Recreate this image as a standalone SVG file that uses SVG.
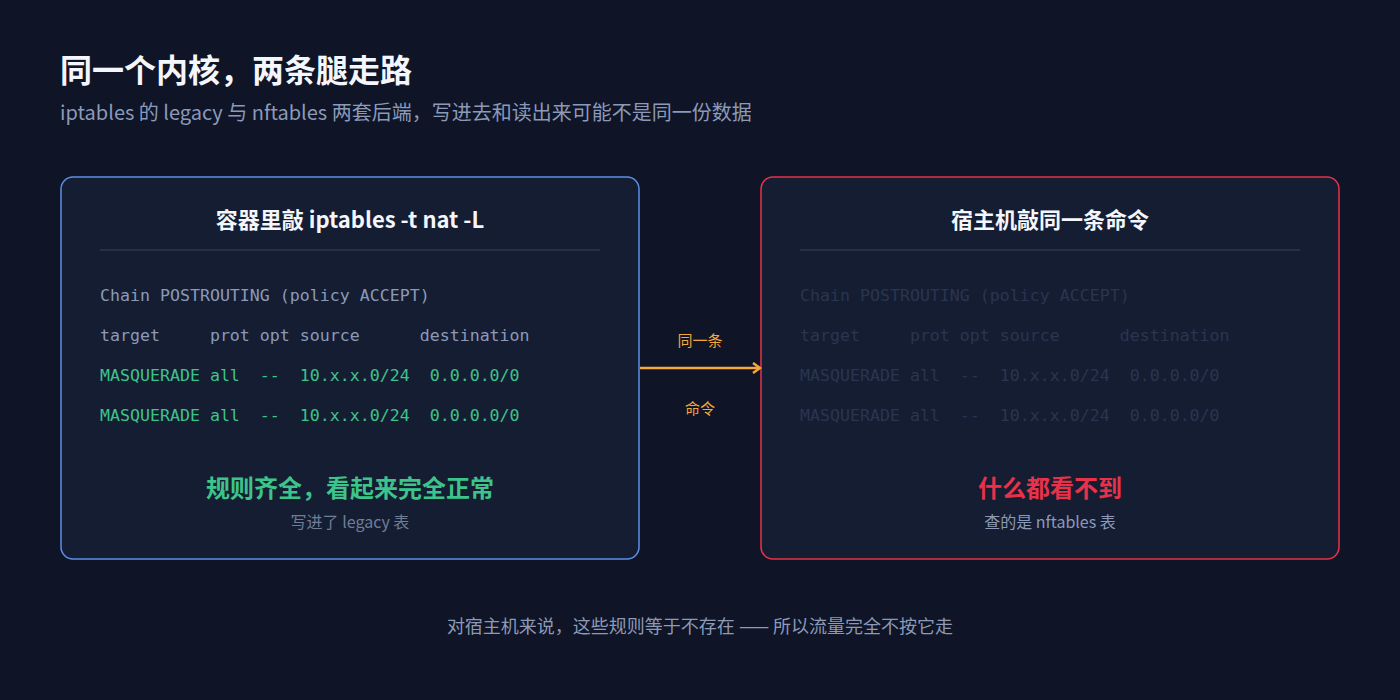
<svg xmlns="http://www.w3.org/2000/svg" width="1400" height="700" viewBox="0 0 1400 700">
<style>
.cjk{font-family:"Noto Sans CJK SC","Noto Sans",sans-serif}
.mono{font-family:"DejaVu Sans Mono","Liberation Mono",monospace;font-size:16.6px;white-space:pre}
.card{fill:#151d33;stroke-width:1.5}
</style>
<defs>
<marker id="ah" markerWidth="12" markerHeight="12" refX="10" refY="6" orient="auto" markerUnits="userSpaceOnUse">
<path d="M3,1 L10,6 L3,11" fill="none" stroke="#f5a83a" stroke-width="2.5"/>
</marker>
</defs>
<rect width="1400" height="700" fill="#0f1426"/>
<text x="60" y="82" class="cjk" font-size="32" font-weight="700" fill="#f3f6fc">同一个内核，两条腿走路</text>
<text x="60" y="120" class="cjk" font-size="20" fill="#8b9ab8">iptables 的 legacy 与 nftables 两套后端，写进去和读出来可能不是同一份数据</text>
<g id="left">
<rect class="card" x="61" y="177" width="578" height="382" rx="12" stroke="#5b8fe8"/>
<text x="350" y="228" text-anchor="middle" class="cjk" font-size="22" font-weight="700" fill="#f3f6fc">容器里敲 iptables -t nat -L</text>
<line x1="100" y1="250" x2="600" y2="250" stroke="#2a3650" stroke-width="1.5"/>
<text x="100" y="301" class="mono" fill="#8b9ab8" xml:space="preserve">Chain POSTROUTING (policy ACCEPT)</text>
<text x="100" y="341" class="mono" fill="#8b9ab8" xml:space="preserve">target     prot opt source      destination</text>
<text x="100" y="381" class="mono" fill="#3cc48a" xml:space="preserve">MASQUERADE all  --  10.x.x.0/24  0.0.0.0/0</text>
<text x="100" y="421" class="mono" fill="#3cc48a" xml:space="preserve">MASQUERADE all  --  10.x.x.0/24  0.0.0.0/0</text>
<text x="350" y="497" text-anchor="middle" class="cjk" font-size="24" font-weight="700" fill="#3cc48a">规则齐全，看起来完全正常</text>
<text x="350" y="528" text-anchor="middle" class="cjk" font-size="16" fill="#6f7d99">写进了 legacy 表</text>
</g>
<g id="right">
<rect class="card" x="761" y="177" width="578" height="382" rx="12" stroke="#e8324a"/>
<text x="1050" y="228" text-anchor="middle" class="cjk" font-size="22" font-weight="700" fill="#f3f6fc">宿主机敲同一条命令</text>
<line x1="800" y1="250" x2="1300" y2="250" stroke="#2a3650" stroke-width="1.5"/>
<g class="mono" fill="#2a3550">
<text x="800" y="301" xml:space="preserve">Chain POSTROUTING (policy ACCEPT)</text>
<text x="800" y="341" xml:space="preserve">target     prot opt source      destination</text>
<text x="800" y="381" xml:space="preserve">MASQUERADE all  --  10.x.x.0/24  0.0.0.0/0</text>
<text x="800" y="421" xml:space="preserve">MASQUERADE all  --  10.x.x.0/24  0.0.0.0/0</text>
</g>
<text x="1050" y="497" text-anchor="middle" class="cjk" font-size="24" font-weight="700" fill="#e8324a">什么都看不到</text>
<text x="1050" y="528" text-anchor="middle" class="cjk" font-size="16" fill="#8b9ab8">查的是 nftables 表</text>
</g>
<g id="connectors">
<line x1="640" y1="368" x2="760" y2="368" stroke="#f5a83a" stroke-width="2.5" marker-end="url(#ah)"/>
<text x="700" y="346" text-anchor="middle" class="cjk" font-size="15" fill="#f5a83a">同一条</text>
<text x="700" y="414" text-anchor="middle" class="cjk" font-size="15" fill="#f5a83a">命令</text>
</g>
<text x="700" y="633" text-anchor="middle" class="cjk" font-size="18" fill="#8b9ab8">对宿主机来说，这些规则等于不存在 —— 所以流量完全不按它走</text>
</svg>
